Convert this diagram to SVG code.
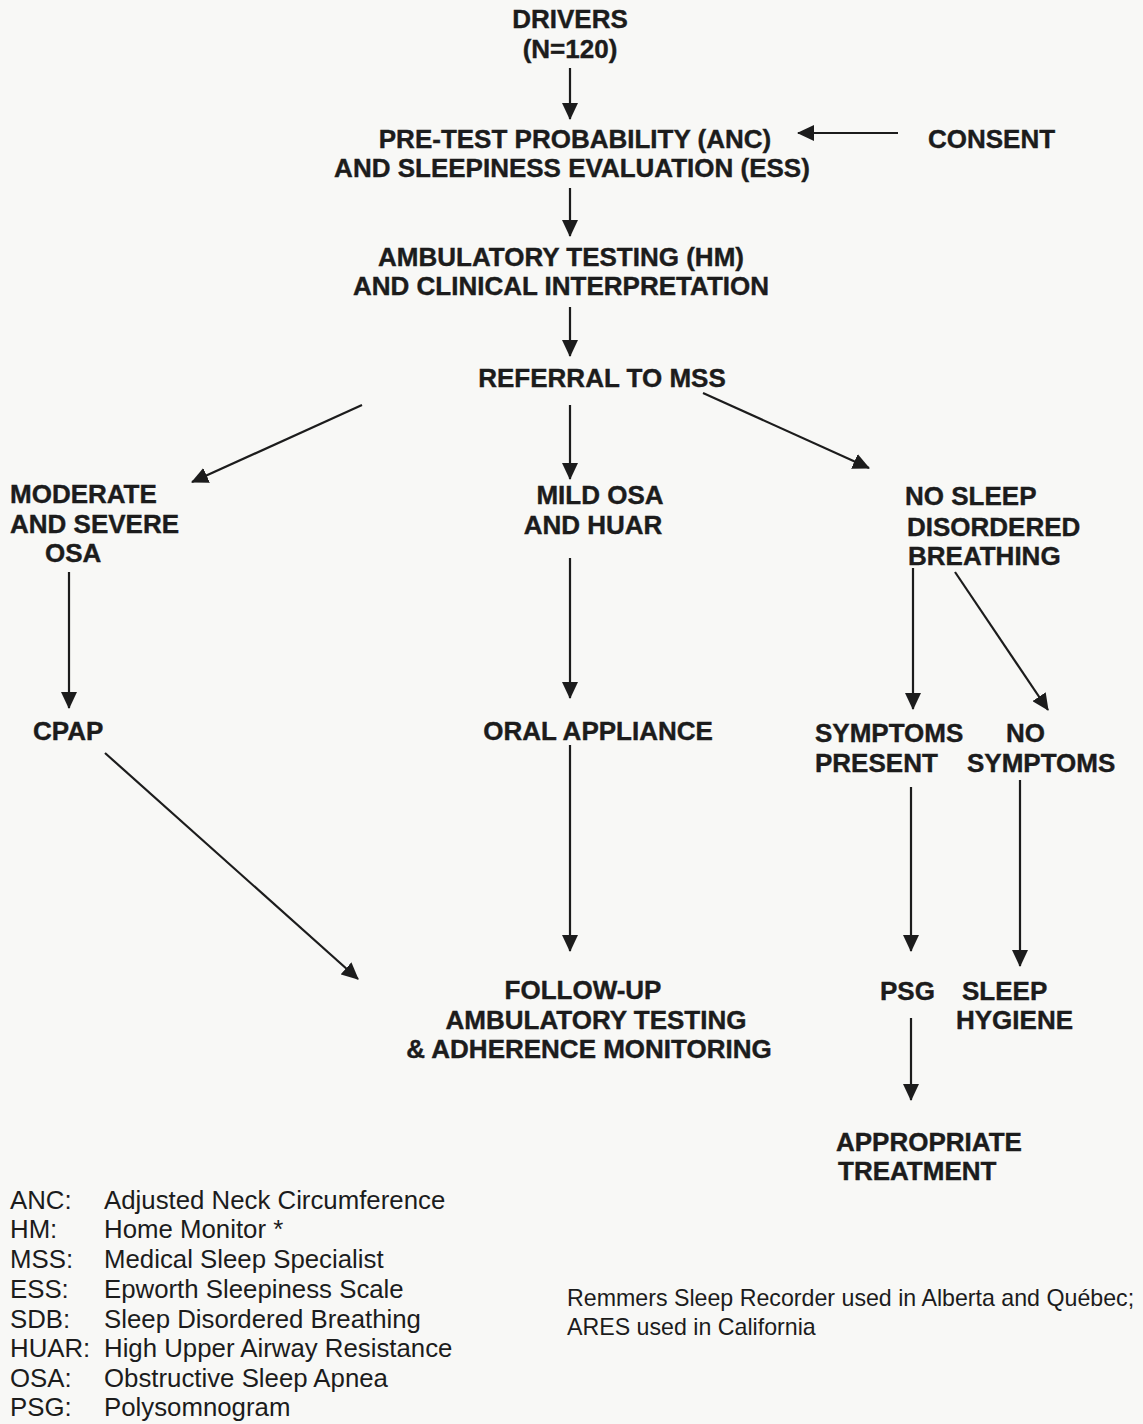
<svg xmlns="http://www.w3.org/2000/svg" width="1143" height="1424" viewBox="0 0 1143 1424">
<style>
.b{font-family:"Liberation Sans",Arial,sans-serif;font-weight:bold;font-size:26px;fill:#1c1c1c;stroke:#1c1c1c;stroke-width:0.4}
.r{font-family:"Liberation Sans",Arial,sans-serif;font-size:25.8px;fill:#1c1c1c}
.n{font-family:"Liberation Sans",Arial,sans-serif;font-size:23.2px;fill:#1c1c1c}
.c{text-anchor:middle}
.e line{stroke:#1c1c1c;stroke-width:2.2;marker-end:url(#ah)}
</style>
<defs>
<marker id="ah" viewBox="0 0 17 16" refX="16" refY="8" markerWidth="17" markerHeight="16" markerUnits="userSpaceOnUse" orient="auto">
<path d="M0,0 L17,8 L0,16 z" fill="#1c1c1c"/>
</marker>
</defs>
<rect width="1143" height="1424" fill="#f8f8f6"/>
<g id="connectors" class="e">
<line x1="570" y1="68" x2="570" y2="119"/>
<line x1="898" y1="133" x2="798" y2="133"/>
<line x1="570" y1="188" x2="570" y2="236"/>
<line x1="570" y1="307" x2="570" y2="356"/>
<line x1="362" y1="405" x2="192" y2="482"/>
<line x1="570" y1="405" x2="570" y2="479"/>
<line x1="703" y1="393" x2="869" y2="468"/>
<line x1="69" y1="572" x2="69" y2="708"/>
<line x1="105" y1="753" x2="358" y2="979"/>
<line x1="570" y1="558" x2="570" y2="698"/>
<line x1="570" y1="745" x2="570" y2="951"/>
<line x1="913" y1="568" x2="913" y2="709"/>
<line x1="955" y1="572" x2="1048" y2="710"/>
<line x1="911" y1="787" x2="911" y2="951"/>
<line x1="1020" y1="780" x2="1020" y2="966"/>
<line x1="911" y1="1018" x2="911" y2="1100"/>
</g>
<g id="drivers"><text class="b c" x="570" y="28">DRIVERS</text><text class="b c" x="570" y="58">(N=120)</text></g>
<g id="pretest"><text class="b c" x="575" y="148">PRE-TEST PROBABILITY (ANC)</text><text class="b c" x="572" y="177">AND SLEEPINESS EVALUATION (ESS)</text></g>
<g id="consent"><text class="b" x="928" y="148">CONSENT</text></g>
<g id="ambulatory"><text class="b c" x="561" y="266">AMBULATORY TESTING (HM)</text><text class="b c" x="561" y="295">AND CLINICAL INTERPRETATION</text></g>
<g id="referral"><text class="b c" x="602" y="387">REFERRAL TO MSS</text></g>
<g id="moderate"><text class="b" x="10" y="503">MODERATE</text><text class="b" x="10" y="533">AND SEVERE</text><text class="b" x="45" y="562">OSA</text></g>
<g id="cpap"><text class="b" x="33" y="740">CPAP</text></g>
<g id="mild"><text class="b c" x="600" y="504">MILD OSA</text><text class="b c" x="593" y="534">AND HUAR</text></g>
<g id="oral"><text class="b c" x="598" y="740">ORAL APPLIANCE</text></g>
<g id="followup"><text class="b c" x="583" y="999">FOLLOW-UP</text><text class="b c" x="596" y="1029">AMBULATORY TESTING</text><text class="b c" x="589" y="1058">&amp; ADHERENCE MONITORING</text></g>
<g id="nosdb"><text class="b" x="905" y="505">NO SLEEP</text><text class="b" x="907" y="536">DISORDERED</text><text class="b" x="908" y="565">BREATHING</text></g>
<g id="symptoms"><text class="b" x="815" y="742">SYMPTOMS</text><text class="b" x="815" y="772">PRESENT</text></g>
<g id="nosymptoms"><text class="b" x="1006" y="742">NO</text><text class="b" x="967" y="772">SYMPTOMS</text></g>
<g id="psg"><text class="b" x="880" y="1000">PSG</text></g>
<g id="hygiene"><text class="b" x="962" y="1000">SLEEP</text><text class="b" x="956" y="1029">HYGIENE</text></g>
<g id="treatment"><text class="b" x="836" y="1151">APPROPRIATE</text><text class="b" x="838" y="1180">TREATMENT</text></g>
<g id="legend">
<text class="r" x="10" y="1209">ANC:</text><text class="r" x="104" y="1209">Adjusted Neck Circumference</text>
<text class="r" x="10" y="1238">HM:</text><text class="r" x="104" y="1238">Home Monitor *</text>
<text class="r" x="10" y="1268">MSS:</text><text class="r" x="104" y="1268">Medical Sleep Specialist</text>
<text class="r" x="10" y="1298">ESS:</text><text class="r" x="104" y="1298">Epworth Sleepiness Scale</text>
<text class="r" x="10" y="1328">SDB:</text><text class="r" x="104" y="1328">Sleep Disordered Breathing</text>
<text class="r" x="10" y="1357">HUAR:</text><text class="r" x="104" y="1357">High Upper Airway Resistance</text>
<text class="r" x="10" y="1387">OSA:</text><text class="r" x="104" y="1387">Obstructive Sleep Apnea</text>
<text class="r" x="10" y="1416">PSG:</text><text class="r" x="104" y="1416">Polysomnogram</text>
</g>
<g id="note"><text class="n" x="567" y="1306">Remmers Sleep Recorder used in Alberta and Québec;</text><text class="n" x="567" y="1335">ARES used in California</text></g>
</svg>
